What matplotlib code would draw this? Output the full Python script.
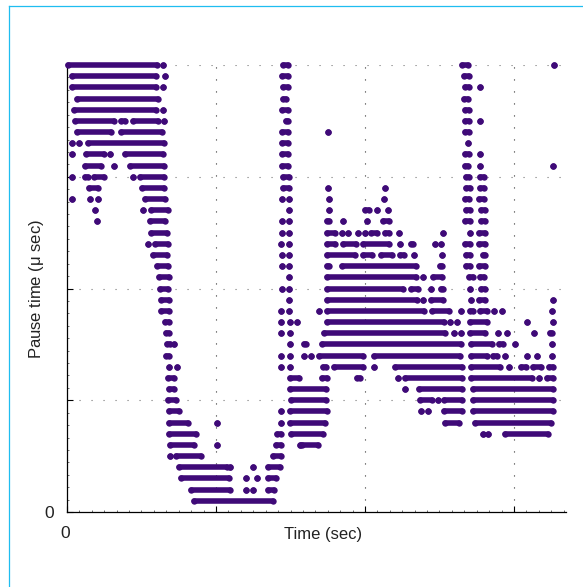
import matplotlib
matplotlib.use("Agg")
import matplotlib.pyplot as plt
from matplotlib.lines import Line2D
from matplotlib.ticker import MultipleLocator

# === Dati: per ogni livello di pausa, gruppi di punti (inizio, fine) nel tempo ===
level_40 = [(1, 90), (96, 96), (216, 221), (395, 401), (487, 487)]
level_39 = [(5, 89), (98, 98), (215, 221), (397, 402)]
level_38 = [(5, 89), (96, 96), (216, 221), (398, 402), (413, 413)]
level_37 = [(10, 91), (216, 219), (397, 401)]
level_36 = [(7, 89), (96, 96), (215, 221), (398, 402)]
level_35 = [(8, 47), (54, 58), (66, 91), (97, 97), (219, 221), (398, 402), (413, 413)]
level_34 = [(10, 44), (54, 95), (215, 221), (261, 261), (398, 402)]
level_33 = [(5, 5), (12, 12), (21, 97), (215, 221), (401, 401)]
level_32 = [(5, 5), (19, 37), (43, 43), (58, 96), (215, 221), (398, 402), (413, 413)]
level_31 = [(18, 34), (47, 47), (63, 97), (215, 221), (398, 401), (413, 413), (486, 486)]
level_30 = [(5, 5), (18, 21), (27, 37), (66, 66), (73, 97), (216, 222), (399, 402), (413, 417)]
level_29 = [(22, 31), (75, 97), (216, 222), (261, 261), (318, 318), (399, 403), (413, 417)]
level_28 = [(5, 5), (23, 23), (31, 31), (78, 98), (215, 215), (222, 222), (262, 262), (317, 317),
            (398, 402), (412, 417)]
level_27 = [(28, 28), (76, 76), (84, 101), (222, 222), (262, 262), (298, 302), (310, 310), (321, 321),
            (399, 403), (414, 418)]
level_26 = [(30, 30), (83, 98), (215, 215), (222, 222), (260, 262), (276, 276), (300, 300), (316, 322),
            (398, 403), (414, 418)]
level_25 = [(84, 100), (215, 215), (222, 222), (260, 268), (275, 275), (281, 281), (291, 291), (298, 298),
            (304, 310), (318, 322), (332, 332), (376, 376), (403, 403), (412, 418)]
level_24 = [(81, 81), (88, 101), (214, 214), (222, 222), (260, 268), (276, 289), (296, 322), (333, 333),
            (344, 346), (368, 368), (374, 374), (398, 403), (412, 418)]
level_23 = [(86, 100), (215, 215), (222, 222), (260, 288), (296, 305), (314, 325), (333, 337), (347, 347),
            (375, 375), (399, 403), (416, 418)]
level_22 = [(90, 101), (215, 215), (222, 222), (260, 262), (275, 349), (373, 375), (399, 403), (412, 418)]
level_21 = [(92, 102), (222, 222), (260, 349), (356, 356), (366, 375), (402, 406), (413, 417)]
level_20 = [(93, 101), (215, 215), (222, 222), (260, 336), (344, 351), (364, 364), (374, 376), (403, 403),
            (414, 418)]
level_19 = [(94, 102), (222, 222), (260, 350), (356, 356), (364, 376), (404, 404), (412, 418), (486, 486)]
level_18 = [(94, 102), (214, 214), (222, 222), (252, 252), (260, 357), (365, 382), (394, 394), (403, 406),
            (413, 420), (427, 427), (435, 435), (485, 485)]
level_17 = [(98, 102), (214, 214), (223, 223), (230, 230), (260, 377), (383, 383), (390, 390), (403, 420),
            (460, 460), (486, 486)]
level_16 = [(99, 102), (214, 214), (223, 223), (257, 378), (387, 387), (394, 394), (403, 418), (431, 431),
            (440, 440), (467, 467), (483, 485)]
level_15 = [(100, 103), (107, 107), (223, 223), (237, 239), (255, 394), (404, 425), (432, 436), (448, 448),
            (485, 485)]
level_14 = [(99, 102), (214, 214), (223, 223), (237, 237), (244, 244), (252, 296), (307, 393), (404, 420),
            (426, 430), (438, 438), (460, 460), (470, 470), (485, 485)]
level_13 = [(102, 102), (110, 110), (214, 214), (223, 223), (256, 259), (267, 296), (307, 307), (328, 395),
            (404, 433), (442, 442), (454, 459), (466, 474), (482, 486)]
level_12 = [(101, 107), (223, 232), (255, 260), (290, 293), (331, 331), (338, 395), (404, 465), (472, 472),
            (480, 486)]
level_11 = [(102, 107), (223, 259), (338, 338), (352, 395), (406, 486)]
level_10 = [(101, 109), (224, 259), (353, 365), (371, 371), (377, 395), (406, 486)]
level_9 = [(102, 112), (214, 214), (223, 260), (354, 354), (361, 361), (377, 395), (406, 486)]
level_8 = [(102, 121), (150, 150), (214, 214), (223, 258), (378, 392), (408, 484)]
level_7 = [(102, 129), (210, 214), (224, 256), (416, 416), (421, 421), (438, 481)]
level_6 = [(103, 127), (150, 150), (209, 214), (233, 233), (235, 251)]
level_5 = [(103, 103), (109, 134), (206, 214)]
level_4 = [(112, 160), (163, 163), (186, 186), (201, 213)]
level_3 = [(114, 162), (179, 179), (190, 190), (201, 209)]
level_2 = [(124, 163), (179, 179), (186, 186), (201, 207)]
level_1 = [(127, 206)]

levels = [level_1, level_2, level_3, level_4, level_5, level_6, level_7, level_8, level_9, level_10,
          level_11, level_12, level_13, level_14, level_15, level_16, level_17, level_18, level_19, level_20,
          level_21, level_22, level_23, level_24, level_25, level_26, level_27, level_28, level_29, level_30,
          level_31, level_32, level_33, level_34, level_35, level_36, level_37, level_38, level_39, level_40]

x_ticks = [0, 149, 298, 447]
y_ticks = [0, 10, 20, 30, 40]
x_max = 499
y_max = 40
grid_end = 494

plt.rcParams["font.family"] = ["Liberation Sans", "DejaVu Sans"]
purple = "#3f0a78"
dots = (0, (1, 9.8))

# === Figura ===
fig = plt.figure(figsize=(5.83, 5.87), dpi=100)
ax = fig.add_axes([67 / 583, 75 / 587, 499 / 583, 447 / 587])
ax.set_xlim(0, x_max)
ax.set_ylim(0, y_max)

# === Griglia a puntini ===
for y in y_ticks[1:]:
    ax.plot([0, grid_end], [y, y], color="#777777", lw=0.8, ls=dots, zorder=1)
for x in x_ticks[1:]:
    ax.plot([x, x], [0, y_max], color="#333333", lw=0.8, ls=dots, zorder=1)

# === Punti ===
for lev, runs in enumerate(levels, start=1):
    for start, end in runs:
        ax.plot([start, end], [lev, lev], "-o", color=purple, lw=4.0, ms=4.6, mew=0,
                solid_capstyle="round", clip_on=False, zorder=3)

# === Assi ===
ax.spines["top"].set_visible(False)
ax.spines["right"].set_visible(False)
ax.spines["left"].set_linewidth(0.9)
ax.spines["bottom"].set_linewidth(0.9)
ax.set_xticks(x_ticks)
ax.set_yticks(y_ticks)
ax.set_xticklabels([])
ax.set_yticklabels([])
ax.xaxis.set_minor_locator(MultipleLocator(149 / 12))
ax.yaxis.set_minor_locator(MultipleLocator(10 / 9))
ax.tick_params(which="major", direction="in", length=4, width=0.8, color="black")
ax.tick_params(which="minor", direction="in", length=1.2, width=0.6, color="#555555")

# === Testi ===
fig.text(65 / 583, 1 - 533 / 587, "0", fontsize=12.5, ha="center", va="center", color="#222222")
fig.text(49 / 583, 1 - 514 / 587, "0", fontsize=12.5, ha="center", va="center", color="#222222")
fig.text(323 / 583, 1 - 535 / 587, "Time (sec)", fontsize=12, ha="center", va="center", color="#222222")
fig.text(37 / 583, 1 - 289 / 587, "Pause time ($\\mathregular{\\mu}$ sec)", fontsize=12, rotation=90,
         ha="center", va="center", color="#222222")

# === Cornice azzurra ===
fig.add_artist(Line2D([8.5 / 583, 8.5 / 583], [0, 1 - 6 / 587], color="#1fbdf0", lw=0.9))
fig.add_artist(Line2D([8.5 / 583, 1], [1 - 6 / 587, 1 - 6 / 587], color="#1fbdf0", lw=0.9))

fig.savefig("out.png", dpi=100)
